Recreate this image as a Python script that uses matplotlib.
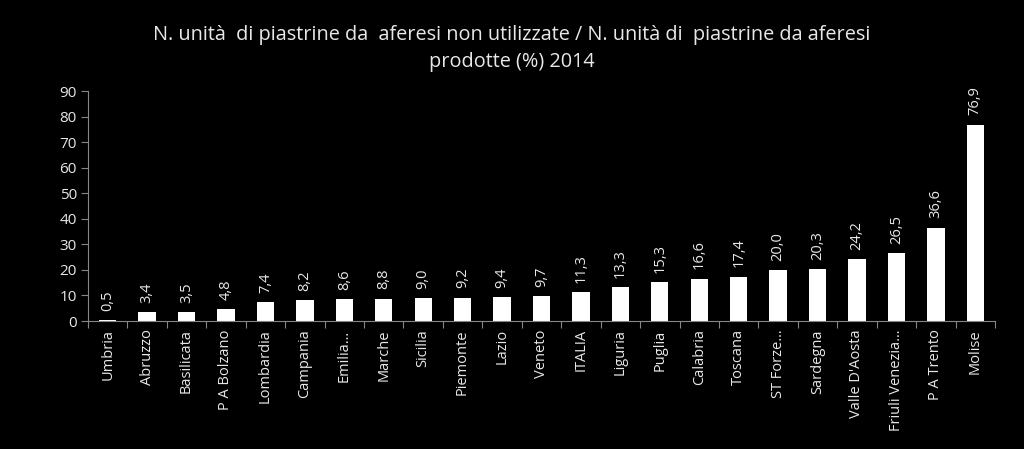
import matplotlib
matplotlib.use("Agg")
import matplotlib.pyplot as plt

# regions and values (%), 2014
regioni = ["Umbria", "Abruzzo", "Basilicata", "P A Bolzano", "Lombardia", "Campania",
           "Emilia…", "Marche", "Sicilia", "Piemonte", "Lazio", "Veneto", "ITALIA",
           "Liguria", "Puglia", "Calabria", "Toscana", "ST Forze…", "Sardegna",
           "Valle D'Aosta", "Friuli Venezia…", "P A Trento", "Molise"]
valori = [0.5, 3.4, 3.5, 4.8, 7.4, 8.2, 8.6, 8.8, 9.0, 9.2, 9.4, 9.7, 11.3,
          13.3, 15.3, 16.6, 17.4, 20.0, 20.3, 24.2, 26.5, 36.6, 76.9]
yticks = list(range(0, 91, 10))

plt.rcParams['font.family'] = ['Open Sans', 'DejaVu Sans']
txt = "#e8e8e8"
axc = "#868686"

fig = plt.figure(figsize=(10.24, 4.49), dpi=100, facecolor="black")
ax = fig.add_axes([0.0859, 0.285, 0.8858, 0.512], facecolor="black")

x = range(len(regioni))
ax.bar(x, valori, width=0.44, color="white")
for xi, v in zip(x, valori):
    ax.text(xi, v + 3.6, f"{v:.1f}".replace(".", ","), rotation=90, ha="center",
            va="bottom", color=txt, fontsize=10.5)

ax.set_xlim(-0.5, len(regioni) - 0.5)
ax.set_ylim(0, 90)
ax.set_yticks(yticks)
ax.set_yticklabels([str(t) for t in yticks], color=txt, fontsize=11)
ax.set_xticks([i - 0.5 for i in range(len(regioni) + 1)], minor=False)
ax.set_xticklabels([])
ax.set_xticks(list(x), minor=True)
ax.set_xticklabels(regioni, minor=True, rotation=90, color=txt, fontsize=10.5)
ax.tick_params(axis="x", which="minor", length=0, pad=6)
ax.tick_params(axis="x", which="major", length=5, color=axc, direction="out")
ax.tick_params(axis="y", length=5, color=axc, direction="out", pad=3)
for s in ["top", "right"]:
    ax.spines[s].set_visible(False)
for s in ["left", "bottom"]:
    ax.spines[s].set_color(axc)

fig.text(0.5, 0.922, "N. unità  di piastrine da  aferesi non utilizzate / N. unità di  piastrine da aferesi",
         ha="center", va="center", color=txt, fontsize=14.3)
fig.text(0.5, 0.862, "prodotte (%) 2014", ha="center", va="center", color=txt, fontsize=14.3)

fig.savefig("out.png", dpi=100, facecolor="black")
